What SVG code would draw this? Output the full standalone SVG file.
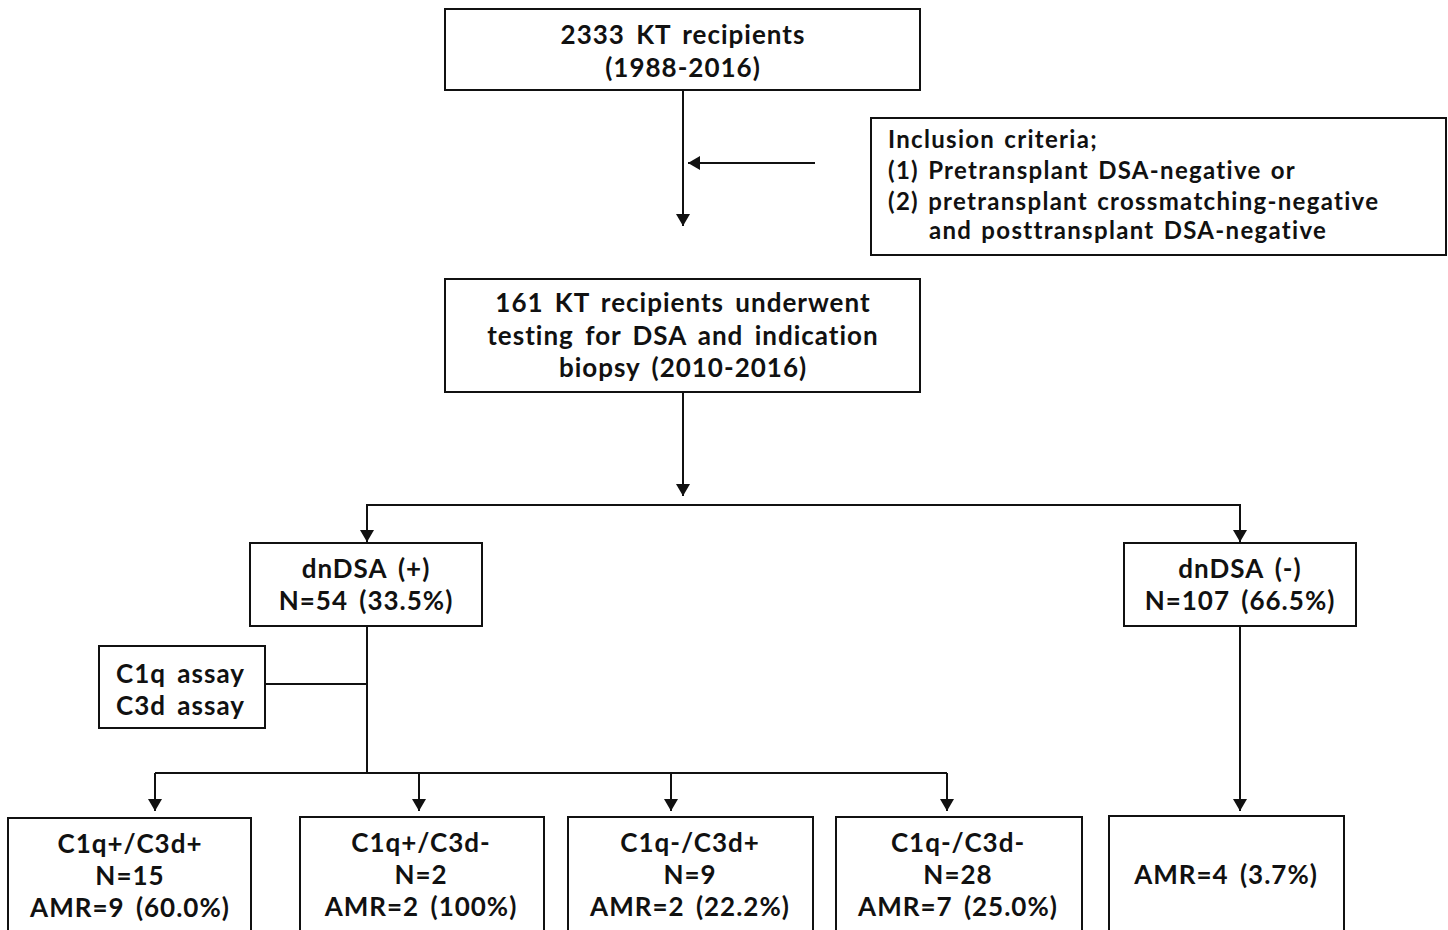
<svg xmlns="http://www.w3.org/2000/svg" width="1448" height="930" viewBox="0 0 1448 930">
<style>
.box{fill:#fff;stroke:#111;stroke-width:2}
.t{font-family:Lato,"Noto Sans","DejaVu Sans",sans-serif;font-weight:bold;font-size:26px;fill:#111;word-spacing:4px;letter-spacing:1px}
.c{text-anchor:middle}
.s{font-size:24px;word-spacing:2px;letter-spacing:1.3px}
.ln{fill:none;stroke:#111;stroke-width:2}
</style>
<defs>
<marker id="ah" viewBox="0 0 12 14" refX="12" refY="7" markerWidth="12" markerHeight="14" markerUnits="userSpaceOnUse" orient="auto">
<path d="M0,0 L12,7 L0,14 Z" fill="#111"/>
</marker>
</defs>
<rect width="1448" height="930" fill="#fff"/>
<g id="connectors">
<line class="ln" x1="683" y1="90" x2="683" y2="226" marker-end="url(#ah)"/>
<line class="ln" x1="815" y1="163" x2="688" y2="163" marker-end="url(#ah)"/>
<line class="ln" x1="683" y1="392" x2="683" y2="496" marker-end="url(#ah)"/>
<polyline class="ln" points="367,530 367,505 1240,505 1240,530"/>
<line class="ln" x1="367" y1="505" x2="367" y2="542" marker-end="url(#ah)"/>
<line class="ln" x1="1240" y1="505" x2="1240" y2="542" marker-end="url(#ah)"/>
<line class="ln" x1="367" y1="626" x2="367" y2="773"/>
<line class="ln" x1="265" y1="684" x2="367" y2="684"/>
<polyline class="ln" points="155,773 947,773"/>
<line class="ln" x1="155" y1="773" x2="155" y2="811" marker-end="url(#ah)"/>
<line class="ln" x1="419" y1="773" x2="419" y2="811" marker-end="url(#ah)"/>
<line class="ln" x1="671" y1="773" x2="671" y2="811" marker-end="url(#ah)"/>
<line class="ln" x1="947" y1="773" x2="947" y2="811" marker-end="url(#ah)"/>
<line class="ln" x1="1240" y1="626" x2="1240" y2="811" marker-end="url(#ah)"/>
</g>
<g id="n-top">
<rect class="box" x="445" y="9" width="475" height="81"/>
<text class="t c" x="683" y="44">2333 KT recipients</text>
<text class="t c" x="683" y="77">(1988-2016)</text>
</g>
<g id="n-inclusion">
<rect class="box" x="871" y="118" width="575" height="137"/>
<text class="t s" x="888" y="148">Inclusion criteria;</text>
<text class="t s" x="888" y="179">(1) Pretransplant DSA-negative or</text>
<text class="t s" x="888" y="210">(2) pretransplant crossmatching-negative</text>
<text class="t s" x="929" y="239">and posttransplant DSA-negative</text>
</g>
<g id="n-161">
<rect class="box" x="445" y="279" width="475" height="113"/>
<text class="t c" x="683" y="312">161 KT recipients underwent</text>
<text class="t c" x="683" y="345">testing for DSA and indication</text>
<text class="t c" x="683" y="377">biopsy (2010-2016)</text>
</g>
<g id="n-dnpos">
<rect class="box" x="250" y="543" width="232" height="83"/>
<text class="t c" x="366" y="578">dnDSA (+)</text>
<text class="t c" x="366" y="610">N=54 (33.5%)</text>
</g>
<g id="n-dnneg">
<rect class="box" x="1124" y="543" width="232" height="83"/>
<text class="t c" x="1240" y="578">dnDSA (-)</text>
<text class="t c" x="1240" y="610">N=107 (66.5%)</text>
</g>
<g id="n-assay">
<rect class="box" x="99" y="646" width="166" height="82"/>
<text class="t" x="116" y="683">C1q assay</text>
<text class="t" x="116" y="715">C3d assay</text>
</g>
<g id="n-pp">
<rect class="box" x="8" y="818" width="243" height="120"/>
<text class="t c" x="130" y="853">C1q+/C3d+</text>
<text class="t c" x="130" y="885">N=15</text>
<text class="t c" x="130" y="917">AMR=9 (60.0%)</text>
</g>
<g id="n-pm">
<rect class="box" x="300" y="817" width="244" height="120"/>
<text class="t c" x="421" y="852">C1q+/C3d-</text>
<text class="t c" x="421" y="884">N=2</text>
<text class="t c" x="421" y="916">AMR=2 (100%)</text>
</g>
<g id="n-mp">
<rect class="box" x="568" y="817" width="245" height="120"/>
<text class="t c" x="690" y="852">C1q-/C3d+</text>
<text class="t c" x="690" y="884">N=9</text>
<text class="t c" x="690" y="916">AMR=2 (22.2%)</text>
</g>
<g id="n-mm">
<rect class="box" x="836" y="817" width="246" height="120"/>
<text class="t c" x="958" y="852">C1q-/C3d-</text>
<text class="t c" x="958" y="884">N=28</text>
<text class="t c" x="958" y="916">AMR=7 (25.0%)</text>
</g>
<g id="n-neg-amr">
<rect class="box" x="1109" y="816" width="235" height="120"/>
<text class="t c" x="1226" y="884">AMR=4 (3.7%)</text>
</g>
</svg>
